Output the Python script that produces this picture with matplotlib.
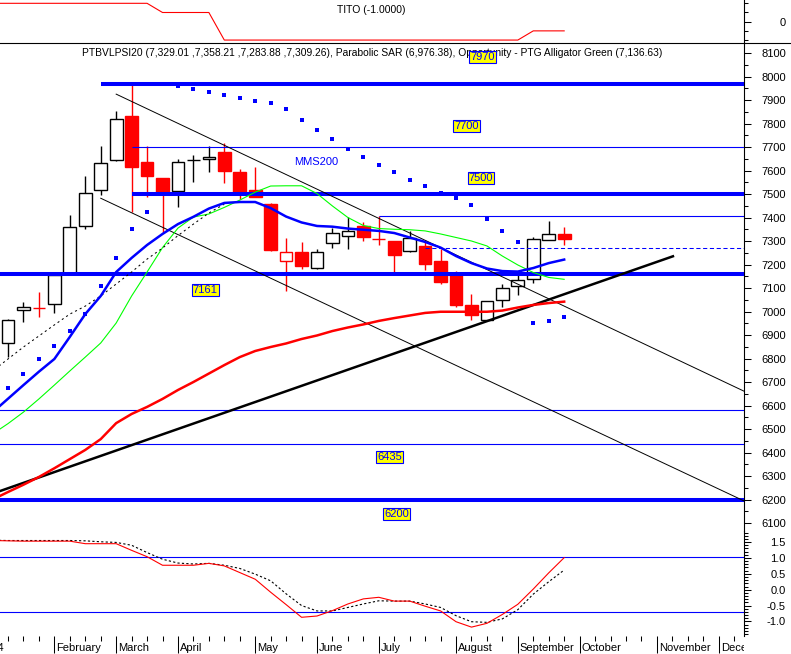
import numpy as np
import matplotlib
matplotlib.use("Agg")
import matplotlib.pyplot as plt
from matplotlib.lines import Line2D
from matplotlib.ticker import MultipleLocator, FixedLocator, FormatStrFormatter
from matplotlib.transforms import offset_copy, Bbox

plt.rcParams['font.family'] = ['Liberation Sans', 'DejaVu Sans']
plt.rcParams['axes.unicode_minus'] = False

# weekly candles, PTBVLPSI20 (week 0 = first visible week)
opens = [6866, 7006, 7017, 7032, 7166, 7363, 7516, 7644, 7832, 7636, 7568, 7511, 7644,
         7647, 7679, 7594, 7517, 7457, 7216, 7252, 7187, 7290, 7322, 7362, 7310, 7298,
         7256, 7279, 7216, 7154, 7028, 6966, 7048, 7108, 7137, 7303, 7329.01]
highs = [6970, 7040, 7085, 7169, 7412, 7578, 7704, 7854, 7973, 7704, 7570, 7649, 7666,
         7704, 7719, 7606, 7613, 7460, 7312, 7295, 7265, 7355, 7402, 7380, 7407, 7302,
         7343, 7304, 7265, 7172, 7075, 7044, 7117, 7163, 7316, 7386, 7358.21]
lows = [6806, 6955, 6977, 6993, 7155, 7351, 7497, 7640, 7425, 7488, 7333, 7446, 7549,
        7595, 7548, 7478, 7488, 7256, 7088, 7179, 7180, 7272, 7267, 7302, 7282, 7165,
        7252, 7176, 7117, 7020, 6966, 6966, 7020, 7072, 7123, 7303, 7283.88]
closes = [6964, 7020, 7013, 7156, 7360, 7503, 7630, 7818, 7616, 7578, 7503, 7635, 7645,
          7656, 7596, 7503, 7488, 7262, 7252, 7194, 7252, 7333, 7342, 7319, 7308, 7240,
          7312, 7204, 7127, 7026, 6985, 7044, 7100, 7134, 7308, 7329, 7309.26]

# indicator lines, from week -1 (just left of the frame) to week 36
ma_blue = [6571, 6629, 6687, 6744, 6798, 6892, 6989, 7066, 7168, 7228, 7283, 7330, 7372,
           7403, 7438, 7462, 7466, 7466, 7440, 7404, 7379, 7364, 7361, 7353, 7348, 7343,
           7334, 7315, 7296, 7272, 7236, 7206, 7183, 7172, 7170, 7185, 7206, 7221]
alligator_green = [6479, 6523, 6572, 6628, 6687, 6747, 6806, 6866, 6951, 7066, 7168, 7272,
                   7355, 7402, 7415, 7443, 7474, 7508, 7534, 7535, 7535, 7502, 7449, 7400,
                   7366, 7353, 7350, 7348, 7343, 7330, 7315, 7300, 7279, 7236, 7198, 7166,
                   7145, 7137]
mms200 = [6200, 6232, 6263, 6296, 6333, 6372, 6411, 6457, 6525, 6564, 6594, 6628, 6666,
          6700, 6736, 6772, 6806, 6832, 6849, 6864, 6883, 6898, 6917, 6932, 6945, 6960,
          6972, 6983, 6994, 6999, 6999, 6999, 6999, 7004, 7017, 7028, 7036, 7042]
# dashed average, weeks -1..14 only
ma_dashed = [6747, 6798, 6849, 6896, 6943, 6989, 7023, 7066, 7117, 7168, 7223, 7270, 7323,
             7372, 7419, 7457]
# parabolic SAR, weeks 0..36
sar = [6676, 6733, 6797, 6852, 6916, 6989, 7107, 7226, 7350, 7425, 7968, 7960, 7948, 7933,
       7920, 7907, 7897, 7889, 7860, 7814, 7771, 7733, 7693, 7656, 7622, 7592, 7558, 7533,
       7504, 7482, 7452, 7392, 7343, 7296, 6950, 6958, 6976]

tito = [1.0, 1.0, 1.0, 1.0, 1.0, 1.0, 1.0, 1.0, 1.0, 1.0, 1.0, 0.5, 0.5, 0.5, 0.5,
        -1.0, -1.0, -1.0, -1.0, -1.0, -1.0, -1.0, -1.0, -1.0, -1.0, -1.0, -1.0, -1.0,
        -1.0, -1.0, -1.0, -1.0, -1.0, -1.0, -1.0, -0.5, -0.5, -0.5]

osc_red = [1.55, 1.54, 1.53, 1.53, 1.53, 1.53, 1.45, 1.45, 1.45, 1.24, 1.04, 0.77, 0.77,
           0.77, 0.83, 0.75, 0.54, 0.33, -0.08, -0.47, -0.87, -0.83, -0.66, -0.45, -0.29,
           -0.24, -0.36, -0.36, -0.52, -0.67, -1.01, -1.18, -1.06, -0.78, -0.46, 0.02,
           0.53, 1.01]
osc_signal = [1.56, 1.55, 1.55, 1.55, 1.55, 1.55, 1.54, 1.51, 1.49, 1.40, 1.17, 0.96, 0.84,
              0.81, 0.83, 0.77, 0.67, 0.49, 0.28, -0.13, -0.50, -0.67, -0.67, -0.56, -0.45,
              -0.35, -0.36, -0.36, -0.45, -0.56, -0.82, -1.01, -1.03, -0.92, -0.63, -0.14,
              0.25, 0.62]
osc_levels = [1.04, -0.71]

# horizontal price levels and the week they start at
level_prices = [7970, 7700, 7500, 7405, 7269, 7161, 6580, 6435, 6200]
level_from = [6, 8, 8, 24, 27, -1, -1, -1, -1]

# trend lines (week, price) end points
upper_channel = ([7, 47.64], [7925, 6661])
lower_channel = ([6, 47.64], [7482, 6194])
support_line = ([-0.52, 43.04], [6236, 7235])

months = ["2004", "February", "March", "April", "May", "June", "July", "August",
          "September", "October", "November", "December"]
month_week = [-2, 3, 7, 11, 16, 20, 24, 29, 33, 37, 42, 46]

weeks = np.arange(len(closes))
xl = np.arange(-1, len(closes))

W, H = 791, 654
fig = plt.figure(figsize=(W / 100, H / 100), dpi=100)


def panel(top, bottom):
    return fig.add_axes([0, 1 - bottom / H, 744 / W, (bottom - top) / H])


ax_t = panel(0, 43)
ax_m = panel(43, 531)
ax_b = panel(531, 636)

for ax in (ax_t, ax_m, ax_b):
    ax.set_xlim(-0.52, 47.64)
    for s in ("left", "top", "bottom"):
        ax.spines[s].set_visible(False)
    ax.spines["right"].set_linewidth(0.8)
    ax.yaxis.tick_right()
    ax.tick_params(axis="y", which="major", direction="out", length=5, width=0.75,
                   labelsize=8, pad=25.2)
    ax.tick_params(axis="y", which="minor", direction="out", length=3, width=0.75)
    ax.patch.set_alpha(0)

ax_t.tick_params(axis="x", which="both", bottom=False, labelbottom=False)
ax_m.tick_params(axis="x", which="both", bottom=False, labelbottom=False)

# ---- TITO panel
ax_t.plot(xl, tito, color="red", lw=0.8)
ax_t.set_ylim(-1.16, 1.18)
ax_t.yaxis.set_major_locator(FixedLocator([0]))
ax_t.yaxis.set_minor_locator(FixedLocator([-1, -0.5, 0.5, 1]))
ax_t.yaxis.set_major_formatter(FormatStrFormatter("%d"))
ax_t.text(0.4987, 0.767, "TITO (-1.0000)", transform=ax_t.transAxes, ha="center",
          va="center", fontsize=7.5)
fig.add_artist(Line2D([0, 1], [1 - 43 / H] * 2, color="black", lw=0.8,
                      transform=fig.transFigure))

# ---- main panel: candles
o = np.array(opens)
c = np.array(closes)
prev = np.r_[c[0] - 1, c[:-1]]
edge = np.where(c < prev, "red", "black")
face = np.where(c < o, edge, "white")
ax_m.vlines(weeks, lows, highs, colors=edge, lw=1.0, zorder=2)
ax_m.bar(weeks, np.abs(c - o), bottom=np.minimum(o, c), width=0.82, color=face,
         edgecolor=edge, linewidth=1.0, zorder=3)

for p, start in zip(level_prices, level_from):
    if p in (7970, 7500, 7161, 6200):
        ax_m.hlines(p, start, 48, colors="blue", lw=2.9, zorder=4)
    elif p == 7269:
        ax_m.hlines(p, start, 48, colors="blue", lw=0.75, linestyles=(0, (4, 2.5)), zorder=4)
    else:
        ax_m.hlines(p, start, 48, colors="blue", lw=0.8, zorder=4)

ax_m.plot(*upper_channel, color="black", lw=0.7, zorder=4)
ax_m.plot(*lower_channel, color="black", lw=0.7, zorder=4)
ax_m.plot(*support_line, color="black", lw=1.8, zorder=5)
ax_m.plot(xl, mms200, color="red", lw=1.8, zorder=5)
ax_m.plot(xl, alligator_green, color="#00ff00", lw=0.8, zorder=5)
ax_m.plot(np.arange(-1, len(ma_dashed) - 1), ma_dashed, color="black", lw=0.75,
          linestyle=(0, (2, 3)), zorder=5)
ax_m.plot(xl, ma_blue, color="blue", lw=1.8, zorder=6)
ax_m.plot(weeks, sar, linestyle="none", marker="s", ms=2.3, mew=0, color="blue", zorder=6)

ax_m.set_ylim(6066, 8142.6)
ax_m.yaxis.set_major_locator(MultipleLocator(100))
ax_m.yaxis.set_minor_locator(MultipleLocator(50))
ax_m.yaxis.set_major_formatter(FormatStrFormatter("%d"))

ax_m.text(0.5, 0.979, "PTBVLPSI20 (7,329.01 ,7,358.21 ,7,283.88 ,7,309.26), Parabolic SAR "
          "(6,976.38), Opportunity - PTG Alligator Green (7,136.63)",
          transform=ax_m.transAxes, ha="center", va="center", fontsize=7.4, zorder=7)

box = dict(boxstyle="square,pad=0.1", fc="yellow", ec="blue", lw=0.8)
for s, xi, yp in [("7970", 30.72, 8084), ("7700", 29.69, 7789), ("7500", 30.61, 7568),
                  ("7161", 12.77, 7091), ("6435", 24.71, 6382), ("6200", 25.13, 6138)]:
    ax_m.text(xi, yp, s, ha="center", va="center", fontsize=8, color="blue", bbox=box,
              zorder=10)
ax_m.text(19.94, 7636, "MMS200", ha="center", va="center", fontsize=8, color="blue",
          zorder=10)

# ---- oscillator panel
for lv in osc_levels:
    ax_b.axhline(lv, color="blue", lw=0.8, zorder=2)
ax_b.plot(xl, osc_signal, color="black", lw=0.8, linestyle=(0, (2, 2)), zorder=3)
ax_b.plot(xl, osc_red, color="red", lw=0.8, zorder=4)
ax_b.set_ylim(-1.46, 1.85)
ax_b.yaxis.set_major_locator(MultipleLocator(0.5))
ax_b.yaxis.set_minor_locator(MultipleLocator(0.1))
ax_b.yaxis.set_major_formatter(FormatStrFormatter("%.1f"))

ax_b.xaxis.set_major_locator(FixedLocator(month_week))
ax_b.xaxis.set_minor_locator(FixedLocator(np.arange(-1, 48)))
ax_b.tick_params(axis="x", which="major", direction="out", length=12.5, width=0.75,
                 labelbottom=False)
ax_b.tick_params(axis="x", which="minor", direction="out", length=3.6, width=0.75)
tr = offset_copy(ax_b.get_xaxis_transform(), fig=fig, x=2, y=-11.7, units="dots")
# month names are cut at the right edge of the plot area, like the original
month_clip = Bbox.from_extents(0, 0, 744, 40)
for m, wk in zip(months, month_week):
    t = ax_b.text(wk, 0, m, transform=tr, ha="left", va="center", fontsize=8)
    t.set_clip_box(month_clip)
    t.set_clip_on(True)

for ax in (ax_t, ax_m, ax_b):
    for t in ax.get_yticklabels():
        t.set_horizontalalignment("right")

fig.savefig("out.png", dpi=100)
